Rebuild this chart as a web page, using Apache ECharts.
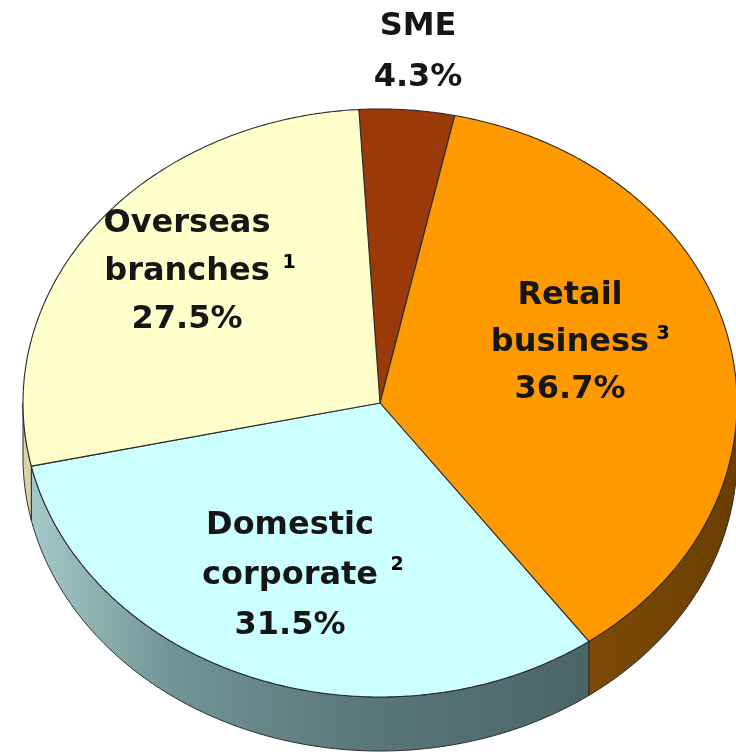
<!DOCTYPE html>
<html>
<head>
<meta charset="utf-8">
<script src="https://cdn.jsdelivr.net/npm/echarts@6/dist/echarts.min.js"></script>
<style>
  html, body { margin: 0; padding: 0; background: #ffffff; }
  #chart { width: 736px; height: 755px; }
</style>
</head>
<body>
<div id="chart"></div>
<script>
// Segment shares, listed clockwise from the top of the disc
const categories = ['SME', 'Retail business', 'Domestic corporate', 'Overseas branches'];
const shares = [4.3, 36.7, 31.5, 27.5];
const footnotes = ['', '3', '2', '1'];

// Colours of the top faces and the rim of each segment
const topColors = ['#9b3a08', '#ff9900', '#ccffff', '#ffffcc'];
const rimColors = [
  '#6e2a06',
  { type: 'linear', x: 0, y: 0, x2: 1, y2: 0, colorStops: [
    { offset: 0, color: '#7e4b06' }, { offset: 1, color: '#6a3d03' } ] },
  { type: 'linear', x: 0, y: 0, x2: 1, y2: 0, colorStops: [
    { offset: 0, color: '#a6c8c8' }, { offset: 0.25, color: '#719597' },
    { offset: 0.6, color: '#5a7779' }, { offset: 1, color: '#4b6567' } ] },
  '#d9d4a8'
];

// Disc geometry (tilted view): centre, radii, rim depth, start angle
const disc = { cx: 380, cy: 403, rx: 357, ry: 294, depth: 54, start: -3.4 };

// Label placement per segment (centre of the text block, line spacing, footnote spot)
const labelLayout = [
  { x: 418, y: 52, lh: 51, noteX: 0, noteY: 0 },
  { x: 570, y: 343, lh: 47, noteX: 663, noteY: 334 },
  { x: 290, y: 576, lh: 50, noteX: 397, noteY: 565 },
  { x: 187, y: 272, lh: 48, noteX: 289, noteY: 263 }
];

const total = shares.reduce((a, b) => a + b, 0);

function pt(tDeg, dy) {
  const t = tDeg * Math.PI / 180;
  return [disc.cx + disc.rx * Math.sin(t), disc.cy - disc.ry * Math.cos(t) + (dy || 0)];
}

function arc(a, b, dy) {
  const pts = [];
  const n = Math.max(2, Math.ceil(Math.abs(b - a) / 0.5));
  for (let i = 0; i <= n; i++) pts.push(pt(a + (b - a) * i / n, dy));
  return pts;
}

const FONT = '"DejaVu Sans", "Liberation Sans", Arial, sans-serif';

function renderSegment(params, api) {
  const i = params.dataIndex;
  const value = api.value(0);
  let before = 0;
  for (let k = 0; k < i; k++) before += shares[k];
  const a1 = disc.start + before / total * 360;
  const a2 = a1 + value / total * 360;
  const children = [];

  // Rim: only the part of the arc that faces the viewer (lower half)
  const ra = Math.max(a1, 90), rb = Math.min(a2, 270);
  if (rb > ra) {
    const rim = arc(ra, rb, 0).concat(arc(rb, ra, disc.depth));
    children.push({
      type: 'polygon', z2: 1,
      shape: { points: rim },
      style: { fill: rimColors[i], stroke: '#2b2b2b', lineWidth: 1 }
    });
  }

  // Top face
  const face = [[disc.cx, disc.cy]].concat(arc(a1, a2, 0));
  children.push({
    type: 'polygon', z2: 2,
    shape: { points: face },
    style: { fill: topColors[i], stroke: '#2b2b2b', lineWidth: 1.1, lineJoin: 'round' }
  });

  // Label: category name on separate lines, then the share
  const lay = labelLayout[i];
  const nameLines = categories[i].split(' ').join('\n');
  children.push({
    type: 'text', z2: 10,
    x: lay.x, y: lay.y,
    style: {
      text: nameLines + '\n' + value.toFixed(1) + '%',
      fill: '#161616',
      font: 'bold 32px ' + FONT,
      lineHeight: lay.lh,
      align: 'center', verticalAlign: 'middle'
    }
  });
  if (footnotes[i]) {
    children.push({
      type: 'text', z2: 10,
      x: lay.noteX, y: lay.noteY,
      style: {
        text: footnotes[i], fill: '#000000',
        font: 'bold 19px ' + FONT,
        align: 'center', verticalAlign: 'middle'
      }
    });
  }
  return { type: 'group', children: children };
}

const chart = echarts.init(document.getElementById('chart'), null, { renderer: 'canvas' });
chart.setOption({
  backgroundColor: '#ffffff',
  animation: false,
  series: [{
    type: 'custom',
    coordinateSystem: 'none',
    renderItem: renderSegment,
    data: shares.map((v, i) => ({ name: categories[i], value: [v] }))
  }]
});
</script>
</body>
</html>
